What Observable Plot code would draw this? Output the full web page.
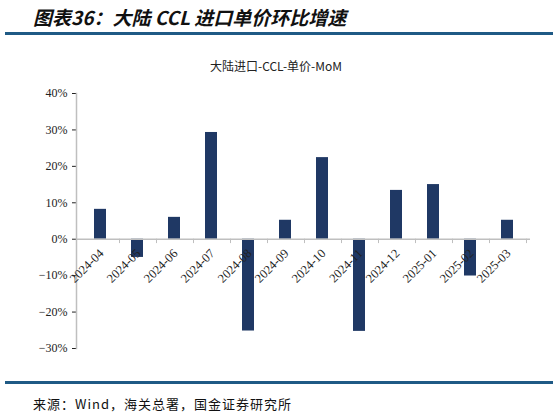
<!DOCTYPE html>
<html>
<head>
<meta charset="utf-8">
<script src="https://cdn.jsdelivr.net/npm/d3@7"></script>
<script src="https://cdn.jsdelivr.net/npm/@observablehq/plot@0.6"></script>
<style>
  body { margin: 0; background: #fff; width: 559px; height: 416px; position: relative; overflow: hidden; }
  #title { position: absolute; left: 33px; top: 3px; font: italic bold 19px "Noto Sans CJK SC", sans-serif; color: #111; white-space: nowrap; }
  .rule { position: absolute; left: 5px; width: 548px; height: 3px; background: #1f5a85; }
  #subtitle { position: absolute; left: 210px; top: 57px; font: 12px "Noto Sans CJK SC", serif; color: #222; white-space: nowrap; }
  #chart { position: absolute; left: 0; top: 40px; }
  #source { position: absolute; left: 33px; top: 394px; font: 13px "Noto Sans CJK SC", monospace; color: #111; letter-spacing: 1px; white-space: nowrap; }
</style>
</head>
<body>
<div id="title">图表36：大陆 CCL 进口单价环比增速</div>
<div class="rule" style="top:32px"></div>
<div id="subtitle">大陆进口-CCL-单价-MoM</div>
<div id="chart"></div>
<div class="rule" style="top:381px"></div>
<div id="source">来源：Wind，海关总署，国金证券研究所</div>
<script>
const months = ["2024-04", "2024-05", "2024-06", "2024-07", "2024-08", "2024-09",
                "2024-10", "2024-11", "2024-12", "2025-01", "2025-02", "2025-03"];
const mom = [0.082, -0.05, 0.06, 0.293, -0.252, 0.052, 0.224, -0.253, 0.134, 0.15, -0.101, 0.052];
const yTicks = [-0.3, -0.2, -0.1, 0, 0.1, 0.2, 0.3, 0.4];

const data = months.map((m, i) => ({ month: m, value: mom[i] }));

const chart = Plot.plot({
  width: 559,
  height: 340,
  marginLeft: 76,
  marginRight: 29,
  marginTop: 53,
  marginBottom: 32,
  style: { fontFamily: "'Liberation Serif', 'Noto Sans CJK SC', serif", fontSize: "12px", color: "#222" },
  x: { domain: months, paddingInner: 0.68, paddingOuter: 0.34, axis: null },
  y: { domain: [-0.3, 0.4], ticks: yTicks, tickFormat: d3.format(".0%"), tickSize: 4, label: null },
  marks: [
    Plot.barY(data, { x: "month", y: "value", fill: "#1f3864" }),
    Plot.frame({ anchor: "left", stroke: "#bfbfbf", strokeWidth: 1.5 }),
    Plot.ruleY([0], { stroke: "#bfbfbf", strokeWidth: 1.5 }),
    Plot.ruleX(months, { x: d => d, y1: 0, y2: -0.012, dx: 19, stroke: "#bfbfbf" }),
    Plot.text(months, { x: d => d, y: () => 0, rotate: -45, textAnchor: "end", fontSize: 12.5, dx: 1, dy: 12, fill: "#222" })
  ]
});

document.getElementById("chart").appendChild(chart);
</script>
</body>
</html>
